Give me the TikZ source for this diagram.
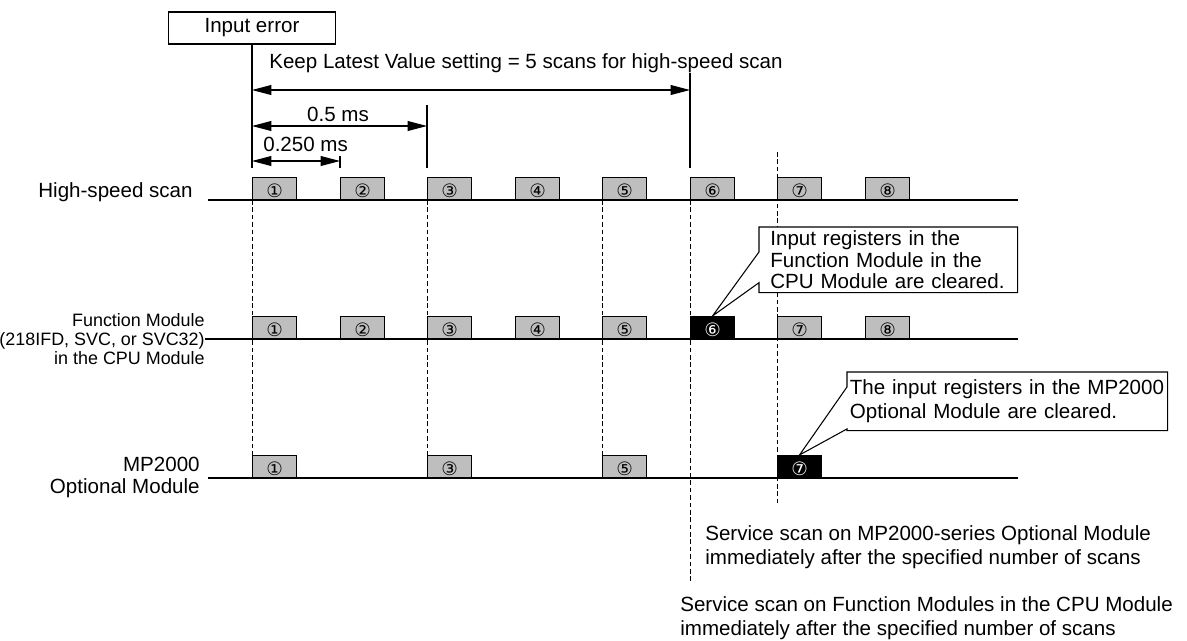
\documentclass[tikz,border=0pt]{standalone}
\usepackage{fontspec}
\setmainfont{Liberation Sans}
\newfontfamily\circfont{DejaVu Sans}
\usepackage{tikz}
\usetikzlibrary{arrows.meta, backgrounds}
\definecolor{scangray}{HTML}{BEBEBE}

\begin{document}
\begin{tikzpicture}[x=0.02cm, y=-0.02cm]

\tikzset{
  txt/.style={font=\fontsize{11.7}{13.5}\selectfont, inner sep=0pt},
  scan/.style={rectangle, draw=black, fill=scangray, line width=0.6pt,
    minimum width=0.88cm, minimum height=0.44cm, inner sep=0pt,
    text height=11.3pt, text depth=1.2pt, anchor=south west,
    font=\circfont\fontsize{10.5}{10.5}\selectfont},
  cleared/.style={scan, fill=black, text=white},
  rowlbl/.style={txt, anchor=east, align=right},
  note/.style={txt, anchor=north west, align=left},
  dim/.style={<->, >={Triangle[length=11pt, width=5.6pt]}, line width=0.6pt},
  tick/.style={line width=0.6pt},
  guide/.style={line width=0.55pt, dash pattern=on 2.6pt off 1.6pt},
  axis/.style={line width=0.7pt},
  callout/.style={draw=black, fill=white, line width=0.6pt}
}

\useasboundingbox (0,0) rectangle (1187,640);

% ---- INPUT ERROR AND TIMES ----
\node (err) [txt, draw, line width=0.6pt, minimum width=3.34cm,
  minimum height=0.64cm] at (252,28) {Input error};
\node (kvtext) [txt, anchor=west] at (269,63)
  {Keep Latest Value setting = 5 scans for high-speed scan};
\node (halfms) [txt] at (338,114) {0.5 ms};
\node (qms)    [txt, anchor=west] at (263,144) {0.250 ms};

% ---- ROW LABELS ----
\node (hslbl) [rowlbl] at (193,192) {High-speed scan};
\node (fmlbl) [rowlbl, font=\fontsize{10.2}{10.8}\selectfont] at (205,339)
  {Function Module\\(218IFD, SVC, or SVC32)\\in the CPU Module};
\node (oplbl) [rowlbl, font=\fontsize{11.7}{12.5}\selectfont] at (200,477)
  {MP2000\\Optional Module};

% ---- HIGH-SPEED SCAN ----
\node (hs1) [scan] at (252,200) {①};
\node (hs2) [scan] at (340,200) {②};
\node (hs3) [scan] at (427,200) {③};
\node (hs4) [scan] at (515,200) {④};
\node (hs5) [scan] at (602,200) {⑤};
\node (hs6) [scan] at (690,200) {⑥};
\node (hs7) [scan] at (777,200) {⑦};
\node (hs8) [scan] at (865,200) {⑧};

% ---- FUNCTION MODULE ----
\node (fm1) [scan]    at (252,339) {①};
\node (fm2) [scan]    at (340,339) {②};
\node (fm3) [scan]    at (427,339) {③};
\node (fm4) [scan]    at (515,339) {④};
\node (fm5) [scan]    at (602,339) {⑤};
\node (fm6) [cleared] at (690,339) {⑥};
\node (fm7) [scan]    at (777,339) {⑦};
\node (fm8) [scan]    at (865,339) {⑧};

% ---- OPTIONAL MODULE ----
\node (op1) [scan]    at (252,478) {①};
\node (op3) [scan]    at (427,478) {③};
\node (op5) [scan]    at (602,478) {⑤};
\node (op7) [cleared] at (777,478) {⑦};

% ---- NOTES ----
\node (fmnote) [note, minimum width=5.16cm, minimum height=1.3cm,
  inner xsep=0.22cm, text width=4.72cm, font=\fontsize{11.7}{12.2}\selectfont]
  at (759,227)
  {Input registers in the\\Function Module in the\\CPU Module are cleared.};
\node (opnote) [note, minimum width=6.32cm, minimum height=1.16cm,
  inner xsep=0.05cm, text width=6.3cm, font=\fontsize{11.7}{13.5}\selectfont]
  at (847,372)
  {The input registers in the MP2000\\Optional Module are cleared.};
\node (opsvc) [txt, anchor=west, align=left] at (705,547)
  {Service scan on MP2000-series Optional Module\\immediately after the specified number of scans};
\node (fmsvc) [txt, anchor=west, align=left] at (680,618)
  {Service scan on Function Modules in the CPU Module\\immediately after the specified number of scans};

% ---- BASELINES ----
\coordinate (hsL) at (208,200);
\coordinate (hsR) at (1018,200);
\coordinate (fmR) at (1018,339);
\coordinate (opL) at (208,478);
\coordinate (opR) at (1018,478);
\draw[axis] (hsL) -- (hsR);
\draw[axis] (fmlbl.east) -- (fmR);
\draw[axis] (opL) -- (opR);

% ---- TIME MARKS ----
\coordinate (m0)  at (252,168);
\coordinate (m2a) at (340,156);
\coordinate (m2b) at (340,168);
\coordinate (m3a) at (427,105);
\coordinate (m3b) at (427,168);
\coordinate (m6a) at (690,73);
\coordinate (m6b) at (690,168);
\draw[tick] (err.south) -- (m0);
\draw[tick] (m2a) -- (m2b);
\draw[tick] (m3a) -- (m3b);
\draw[tick] (m6a) -- (m6b);

\coordinate (kvA) at (252,90);
\coordinate (kvB) at (690,90);
\coordinate (hA)  at (252,126);
\coordinate (hB)  at (427,126);
\coordinate (qA)  at (252,161);
\coordinate (qB)  at (340,161);
\draw[dim] (kvA) -- (kvB);
\draw[dim] (hA) -- (hB);
\draw[dim] (qA) -- (qB);

% ---- GUIDES AND CALLOUTS ----
\coordinate (fmscan) at (690,583);
\coordinate (opscanA) at (777,152);
\coordinate (opscanB) at (777,505);
\begin{scope}[on background layer]
\draw[guide] (hs1.south west) -- (op1.north west);
\draw[guide] (hs3.south west) -- (op3.north west);
\draw[guide] (hs5.south west) -- (op5.north west);
\draw[guide] (hs6.south west) -- (fmscan);
\draw[guide] (opscanA) -- (opscanB);
\draw[callout] (fmnote.north west) -- (fmnote.north east)
  -- (fmnote.south east) -- (fmnote.south west)
  -- ([yshift=5.7pt]fmnote.south west) -- (fm6.north)
  -- ([yshift=-14.2pt]fmnote.north west) -- cycle;
\draw[callout] (opnote.north west) -- (opnote.north east)
  -- (opnote.south east) -- (opnote.south west)
  -- ([yshift=1pt]opnote.south west) -- (op7.north)
  -- ([yshift=-8.5pt]opnote.north west) -- cycle;
\end{scope}

\end{tikzpicture}
\end{document}
